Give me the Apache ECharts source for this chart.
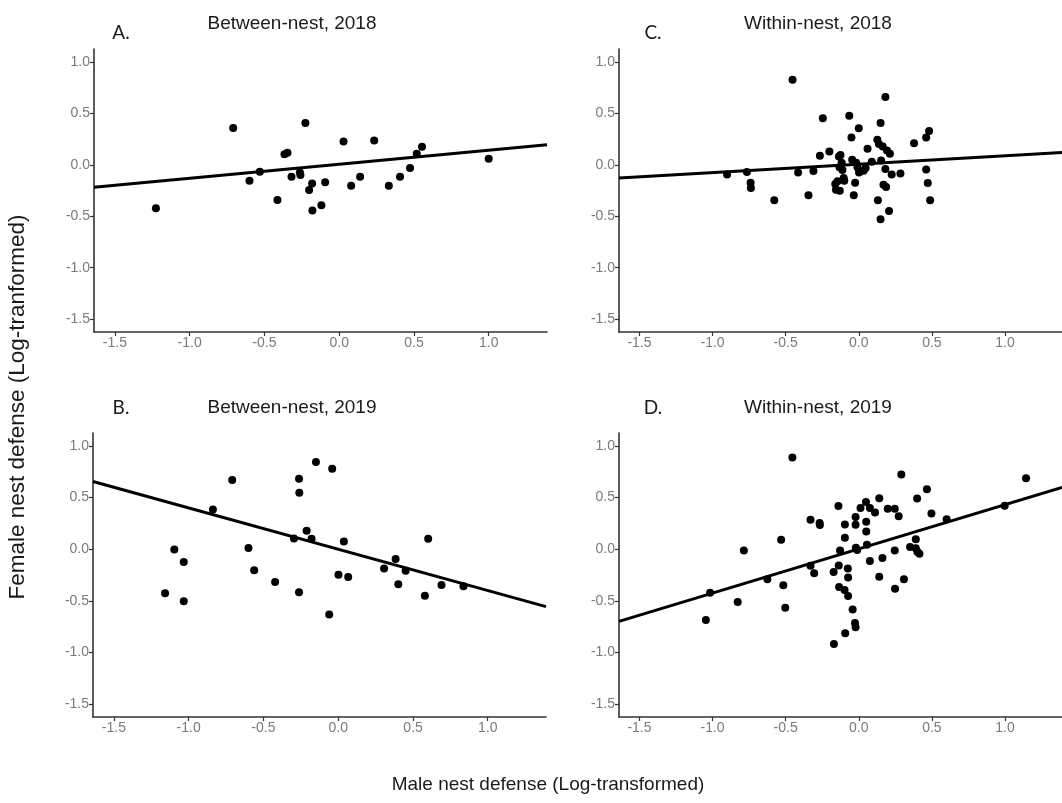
<!DOCTYPE html>
<html>
<head>
<meta charset="utf-8">
<script src="https://cdn.jsdelivr.net/npm/echarts@6/dist/echarts.min.js"></script>
<style>html,body{margin:0;padding:0;background:#fff}#c{width:1062px;height:803px}</style>
</head>
<body>
<div id="c"></div>
<script>
// ---- Data ----
const panelTitles = ["Between-nest, 2018", "Between-nest, 2019", "Within-nest, 2018", "Within-nest, 2019"];
const panelLetters = ["A.", "B.", "C.", "D."];
const tickValues = [-1.5, -1.0, -0.5, 0.0, 0.5, 1.0];
const xTitle = "Male nest defense (Log-transformed)";
const yTitle = "Female nest defense (Log-tranformed)";

// Panel A: Between-nest, 2018
const xA = [-1.226,-0.709,-0.600,-0.531,-0.413,-0.366,-0.346,-0.319,-0.263,-0.259,-0.226,-0.201,-0.181,-0.179,-0.119,-0.094,0.029,0.080,0.140,0.234,0.332,0.407,0.474,0.519,0.554,1.000];
const yA = [-0.423,0.358,-0.155,-0.068,-0.342,0.103,0.116,-0.116,-0.074,-0.100,0.406,-0.245,-0.181,-0.445,-0.394,-0.171,0.226,-0.203,-0.116,0.235,-0.203,-0.116,-0.032,0.106,0.174,0.058];

// Panel B: Between-nest, 2019
const xB = [-1.158,-1.096,-1.033,-1.033,-0.838,-0.709,-0.600,-0.562,-0.422,-0.296,-0.262,-0.260,-0.262,-0.211,-0.178,-0.149,-0.060,-0.040,0.002,0.038,0.067,0.307,0.384,0.402,0.451,0.580,0.602,0.691,0.838];
const yB = [-0.427,-0.002,-0.124,-0.505,0.385,0.671,0.011,-0.205,-0.318,0.104,0.681,0.546,-0.418,0.178,0.101,0.845,-0.633,0.778,-0.247,0.075,-0.269,-0.186,-0.095,-0.340,-0.208,-0.450,0.101,-0.347,-0.360];

// Panel C: Within-nest, 2018
const xC = [-0.901,-0.765,-0.740,-0.738,-0.578,-0.453,-0.415,-0.344,-0.310,-0.266,-0.246,-0.201,-0.161,-0.156,-0.145,-0.136,-0.132,-0.130,-0.125,-0.117,-0.112,-0.103,-0.099,-0.065,-0.050,-0.045,-0.034,-0.025,-0.018,-0.009,0.000,0.002,0.033,0.047,0.060,0.089,0.127,0.131,0.138,0.149,0.153,0.149,0.164,0.169,0.182,0.182,0.187,0.193,0.207,0.213,0.225,0.285,0.378,0.461,0.461,0.472,0.481,0.488];
const yC = [-0.094,-0.071,-0.174,-0.226,-0.345,0.826,-0.074,-0.297,-0.061,0.087,0.452,0.129,-0.187,-0.242,-0.161,0.081,-0.023,-0.252,0.094,0.019,-0.052,-0.129,-0.155,0.477,0.265,0.048,-0.297,-0.174,0.019,-0.023,0.355,-0.074,-0.058,-0.032,0.155,0.029,0.242,-0.345,0.203,0.406,0.042,-0.529,0.177,-0.194,0.658,-0.042,-0.216,0.139,-0.448,0.106,-0.094,-0.084,0.210,-0.045,0.265,-0.177,0.329,-0.345];

// Panel D: Within-nest, 2019
const xD = [-1.046,-1.017,-0.828,-0.786,-0.625,-0.531,-0.516,-0.503,-0.454,-0.330,-0.330,-0.305,-0.268,-0.266,-0.172,-0.170,-0.139,-0.137,-0.135,-0.128,-0.097,-0.095,-0.095,-0.093,-0.075,-0.073,-0.073,-0.042,-0.026,-0.022,-0.022,-0.022,-0.020,-0.011,0.012,0.049,0.051,0.051,0.056,0.076,0.076,0.111,0.140,0.140,0.162,0.198,0.246,0.246,0.248,0.273,0.291,0.309,0.351,0.390,0.390,0.399,0.401,0.415,0.466,0.497,0.601,0.998,1.144];
const yD = [-0.685,-0.421,-0.511,-0.012,-0.292,0.092,-0.350,-0.566,0.887,0.285,-0.160,-0.234,0.253,0.233,-0.221,-0.917,0.417,-0.157,-0.366,-0.012,-0.395,0.240,0.111,-0.814,-0.186,-0.273,-0.453,-0.585,-0.714,-0.756,0.311,0.237,0.014,-0.008,0.398,0.456,0.265,0.172,0.043,0.398,-0.115,0.356,0.494,-0.266,-0.086,0.391,0.391,-0.012,-0.382,0.320,0.723,-0.292,0.021,0.095,0.008,0.491,-0.024,-0.044,0.581,0.346,0.291,0.420,0.688];

// Fitted regression lines (intercept, slope), order A, B, C, D
const fitIntercepts = [0.005, 0.000, 0.006, 0.003];
const fitSlopes = [0.136, -0.400, 0.082, 0.428];

// ---- Chart ----
const xs = [xA, xB, xC, xD];
const ys = [yA, yB, yC, yD];
const xMin = -1.64, xMax = 1.39, yMin = -1.625, yMax = 1.125;
const FONT = "'Liberation Sans', Arial, Helvetica, sans-serif";

const grids = [
  {left: 94, top: 49, width: 453, height: 283},
  {left: 93, top: 433, width: 453, height: 284},
  {left: 619, top: 49, width: 453, height: 283},
  {left: 619, top: 433, width: 453, height: 284}
];
const titlePos = [[292, 24], [292, 408], [818, 24], [818, 408]];
const letterPos = [[121, 33], [121, 408], [653, 33], [653, 408]];

const axisLineStyle = {color: '#333', width: 1.6};
function makeAxis(i) {
  return {
    type: 'value', gridIndex: i,
    splitLine: {show: false},
    axisLine: {show: true, onZero: false, lineStyle: axisLineStyle},
    axisTick: {show: true, length: 4, customValues: tickValues, lineStyle: {color: '#333', width: 1.2}},
    axisLabel: {customValues: tickValues, color: '#7a7a7a', fontSize: 14, fontFamily: FONT, margin: 4,
      formatter: v => v.toFixed(1)}
  };
}
function makeX(i) { return Object.assign(makeAxis(i), {min: xMin, max: xMax}); }
function makeY(i) { return Object.assign(makeAxis(i), {min: yMin, max: yMax}); }

const series = [];
for (let i = 0; i < 4; i++) {
  series.push({
    type: 'scatter', xAxisIndex: i, yAxisIndex: i, symbolSize: 8,
    itemStyle: {color: '#000', opacity: 1},
    data: xs[i].map((x, k) => [x, ys[i][k]]),
    z: 2, silent: true
  });
  const a = fitIntercepts[i], b = fitSlopes[i];
  series.push({
    type: 'line', xAxisIndex: i, yAxisIndex: i, showSymbol: false, symbol: 'none',
    lineStyle: {color: '#000', width: 3},
    data: [[xMin, a + b * xMin], [xMax, a + b * xMax]],
    z: 3, silent: true, animation: false
  });
}

const graphics = [];
for (let i = 0; i < 4; i++) {
  graphics.push({type: 'text', x: titlePos[i][0], y: titlePos[i][1],
    style: {text: panelTitles[i], font: "19px " + FONT, fill: '#1a1a1a', align: 'center', verticalAlign: 'middle'}});
  graphics.push({type: 'text', x: letterPos[i][0], y: letterPos[i][1],
    style: {text: panelLetters[i], font: "19px Lato, 'Open Sans', sans-serif", fill: '#1a1a1a', align: 'center', verticalAlign: 'middle'}});
}
graphics.push({type: 'text', x: 548, y: 785,
  style: {text: xTitle, font: "19px " + FONT, fill: '#1a1a1a', align: 'center', verticalAlign: 'middle'}});
graphics.push({type: 'text', x: 18, y: 407, rotation: Math.PI / 2,
  style: {text: yTitle, font: "22.5px " + FONT, fill: '#1a1a1a', align: 'center', verticalAlign: 'middle'}});

const chart = echarts.init(document.getElementById('c'));
chart.setOption({
  animation: false,
  backgroundColor: '#fff',
  grid: grids,
  xAxis: [0,1,2,3].map(makeX),
  yAxis: [0,1,2,3].map(makeY),
  series: series,
  graphic: graphics
});
</script>
</body>
</html>
